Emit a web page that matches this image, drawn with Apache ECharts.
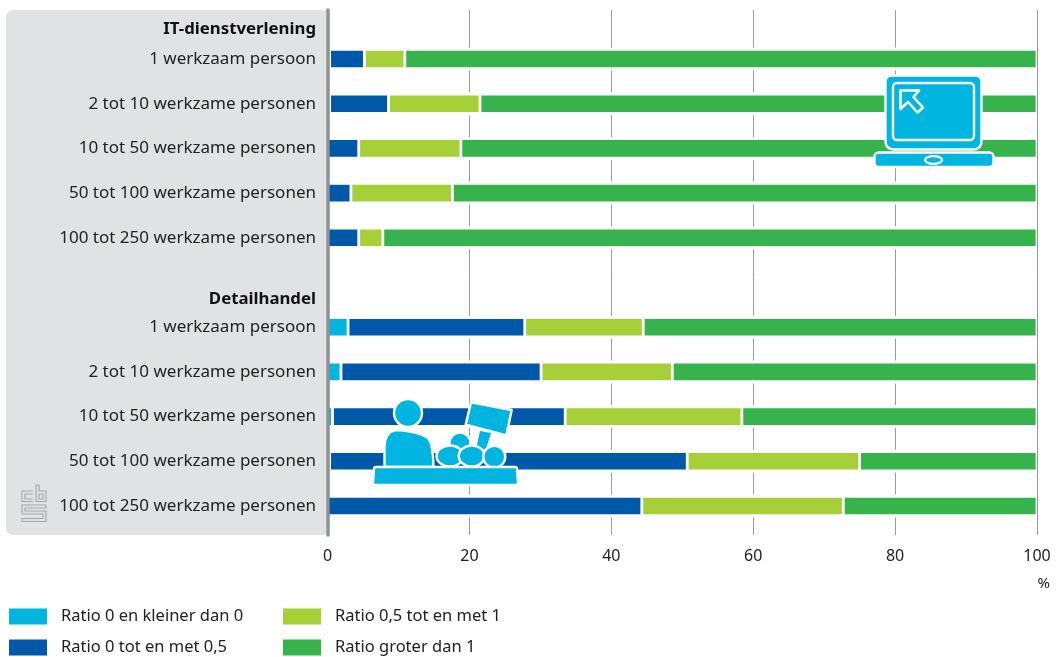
<!DOCTYPE html>
<html>
<head>
<meta charset="utf-8">
<style>html,body{margin:0;padding:0;background:#fff}#c{width:1058px;height:657px}</style>
<script src="https://cdn.jsdelivr.net/npm/echarts@6/dist/echarts.min.js"></script>
</head>
<body>
<div id="c"></div>
<script>
var FONT = '"Noto Sans"';
var categories = ['1 werkzaam persoon','2 tot 10 werkzame personen','10 tot 50 werkzame personen','50 tot 100 werkzame personen','100 tot 250 werkzame personen','',
 '1 werkzaam persoon','2 tot 10 werkzame personen','10 tot 50 werkzame personen','50 tot 100 werkzame personen','100 tot 250 werkzame personen'];
var seriesNames = ['Ratio 0 en kleiner dan 0','Ratio 0 tot en met 0,5','Ratio 0,5 tot en met 1','Ratio groter dan 1'];
var ratioBelowZero = [0.3,0.3,0,0,0,null,2.9,1.9,0.7,0.3,0];
var ratioZeroToHalf = [4.9,8.3,4.4,3.3,4.4,null,24.9,28.2,32.8,50.4,44.3];
var ratioHalfToOne = [5.7,12.9,14.4,14.3,3.4,null,16.7,18.5,24.9,24.3,28.4];
var ratioAboveOne = [89.1,78.5,81.2,82.4,92.2,null,55.5,51.4,41.6,25,27.3];
var rowTotals = [100,100,100,100,100,null,100,100,100,100,100];
var colors = ['#00b5e0','#0058a8','#a7cf38','#36b34a'];
var headings = ['IT-dienstverlening','Detailhandel'];
var valueTicks = [0,20,40,60,80,100];

var values = [ratioBelowZero,ratioZeroToHalf,ratioHalfToOne,ratioAboveOne];
var series = seriesNames.map(function(n,i){
  return {name:n,type:'bar',stack:'t',xAxisIndex:1,yAxisIndex:1,barWidth:19.4,z:3,
    data:values[i],itemStyle:{color:colors[i],borderColor:'#fff',borderWidth:1.4},
    emphasis:{disabled:true},animation:false};
});
// white halo behind each row, which interrupts the gridlines as in the reference
series.unshift({name:'rij',type:'bar',xAxisIndex:2,yAxisIndex:2,barWidth:23,z:1,silent:true,
  data:rowTotals,itemStyle:{color:'#fff'},emphasis:{disabled:true},animation:false});
var CY='#00b5e0';
function ws(){return {fill:CY,stroke:'#fff',lineWidth:2.4,lineJoin:'round'};}
var shapeCount=0;
function P(d,z,style){
  var name='svgp'+(shapeCount++);
  echarts.graphic.registerShape(name,echarts.graphic.extendPath(d,{}));
  return {type:name,z:z,silent:true,style:style};
}
var icons=[
 P('M326 10 L14 10 Q6 10 6 18 L6 527 Q6 535 14 535 L326 535 Z',-5,{fill:'#e1e2e4'}),
 {type:'text',z:5,style:{text:headings[0],font:'bold 16.8px '+FONT,fill:'#111',textAlign:'right'},x:316,y:21},
 {type:'text',z:5,style:{text:headings[1],font:'bold 16.8px '+FONT,fill:'#111',textAlign:'right'},x:316,y:291},
 {type:'text',z:5,style:{text:'%',font:'15px '+FONT,fill:'#222',textAlign:'right'},x:1050,y:576},
 // laptop
 P('M892 75.5 L975 75.5 Q981.5 75.5 981.5 82 L981.5 141 Q981.5 149.5 973 149.5 L894 149.5 Q885.5 149.5 885.5 141 L885.5 82 Q885.5 75.5 892 75.5 Z',50,ws()),
 {type:'rect',z:51,silent:true,shape:{x:893,y:83,width:81,height:57,r:4},style:{fill:CY,stroke:'#fff',lineWidth:2.4}},
 P('M900.5 90.5 L919 90.5 L913.5 97 L923 107.5 L917.5 112.5 L908 102 L900.5 109 Z',52,{fill:CY,stroke:'#fff',lineWidth:2.6,lineJoin:'round'}),
 {type:'rect',z:50,silent:true,shape:{x:874.5,y:152.5,width:119,height:14.5,r:4},style:ws()},
 {type:'ellipse',z:52,silent:true,shape:{cx:933.5,cy:160,rx:8.5,ry:3.8},style:{fill:CY,stroke:'#fff',lineWidth:2.2}},
 // retail
 {type:'circle',z:50,silent:true,shape:{cx:408,cy:413,r:14},style:ws()},
 P('M384.5 467 L384.5 446 Q385.5 430 398 430 Q420 432 428 438 Q433 444 433.5 467 Z',50,ws()),
 P('M480 431 L491 433 L486 449 L476 449 Z',50,{fill:CY}),
 P('M471 402.3 L511.7 410 L506.4 435.3 L465.7 424.6 Z',51,ws()),
 {type:'circle',z:50,silent:true,shape:{cx:460,cy:443,r:10.5},style:ws()},
 {type:'ellipse',z:51,silent:true,shape:{cx:450,cy:456,rx:13.5,ry:10.5},style:ws()},
 {type:'ellipse',z:51,silent:true,shape:{cx:471.7,cy:456,rx:13,ry:10.5},style:ws()},
 {type:'circle',z:52,silent:true,shape:{cx:494.3,cy:456.7,r:11},style:ws()},
 P('M376 467 L515 467 Q517 467 517 469 L518 483 Q518 485 516 485 L375 485 Q373 485 373 483 L374 469 Q374 467 376 467 Z',53,ws()),
 // cbs logo
 P('M33 491 L22 491 L22 501.5 L33 501.5 M33 494 L25 494 L25 499 L33 499 M36 485 L36 501.5 L46 501.5 L46 491 L39 491 L39 485 Z M39 494 L43 494 L43 499 L39 499 Z M46 505 L22 505 L22 514 L43 514 L43 518.5 L22 518.5 L22 521.5 L46 521.5 L46 511 L25 511 L25 508 L46 508 Z',5,{fill:'none',stroke:'#a3a6aa',lineWidth:1.1})
];
var plot={left:327.5,right:21,top:36.65,height:491.7};
var legendBase={top:608,height:60,padding:0,orient:'vertical',itemWidth:38,itemHeight:16,itemGap:14,icon:'rect',selectedMode:false,
   itemStyle:{borderWidth:0},
   textStyle:{fontFamily:FONT,fontSize:16.5,color:'#222',padding:[7,0,0,9]}};
var option={
 animation:false,
 backgroundColor:'#fff',
 grid:[{left:327.5,right:21,top:10,height:525},plot,plot],
 xAxis:[
  {type:'value',gridIndex:0,min:0,max:100,interval:20,z:0,position:'bottom',
   axisLine:{show:false},axisTick:{show:false},
   axisLabel:{margin:13,fontFamily:FONT,fontSize:16,color:'#222',
     formatter:function(v){return valueTicks.indexOf(v)>=0?String(v):'';}},
   splitLine:{show:true,showMinLine:false,lineStyle:{color:'#9a9a9a',width:1}}},
  {type:'value',gridIndex:1,min:0,max:100,show:false},
  {type:'value',gridIndex:2,min:0,max:100,show:false}
 ],
 yAxis:[
  {type:'value',gridIndex:0,min:0,max:1,z:10,axisLabel:{show:false},axisTick:{show:false},splitLine:{show:false},
   axisLine:{show:true,lineStyle:{color:'#8c9194',width:3.5}}},
  {type:'category',gridIndex:1,inverse:true,data:categories,z:5,
   axisLine:{show:false},axisTick:{show:false},splitLine:{show:false},
   axisLabel:{margin:11.5,fontFamily:FONT,fontSize:17,color:'#222',interval:0}},
  {type:'category',gridIndex:2,inverse:true,data:categories,show:false}
 ],
 legend:[
  Object.assign({},legendBase,{left:9,data:seriesNames.slice(0,2)}),
  Object.assign({},legendBase,{left:283,data:seriesNames.slice(2,4)})
 ],
 graphic:{elements:icons},
 series:series
};
var chart=echarts.init(document.getElementById('c'),null,{renderer:'canvas'});
chart.setOption(option);
</script>
</body>
</html>
